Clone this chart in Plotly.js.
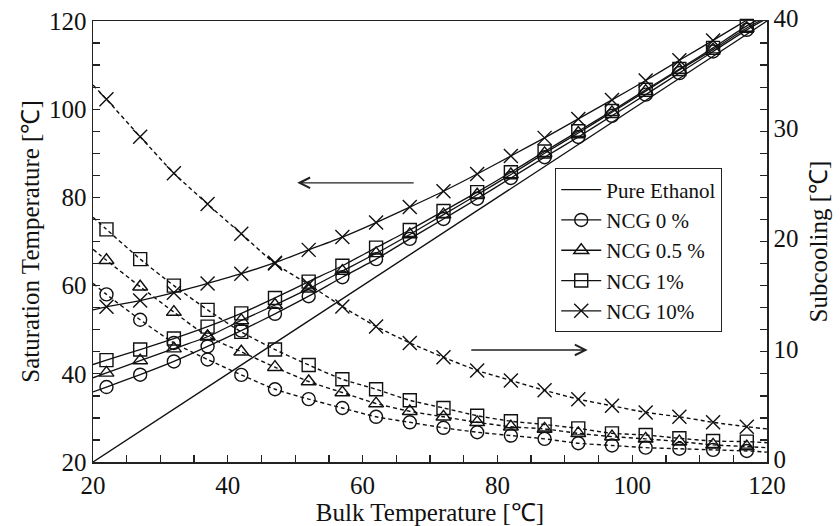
<!DOCTYPE html>
<html>
<head>
<meta charset="utf-8">
<script src="https://cdn.plot.ly/plotly-3.0.1.min.js"></script>
<style>html,body{margin:0;padding:0;background:#fff;}#chart{width:840px;height:526px;}</style>
</head>
<body>
<div id="chart"></div>
<script>
// ---- data ----
const bulkT = [22,27,32,37,42,47,52,57,62,67,72,77,82,87,92,97,102,107,112,117];

// Saturation temperature [°C] (left axis)
const tsatNCG0  = [37.0,39.8,42.8,46.2,49.8,53.6,57.6,61.9,66.0,70.6,75.1,79.7,84.4,89.1,93.7,98.5,103.3,108.2,113.1,118.0];
const tsatNCG05 = [40.2,43.0,45.7,48.4,52.1,55.6,59.3,63.3,67.3,71.6,76.1,80.6,85.2,90.0,94.6,99.3,104.1,108.9,113.5,118.4];
const tsatNCG1  = [43.1,45.5,48.0,50.7,53.7,57.2,60.9,64.5,68.6,72.6,76.9,81.2,85.7,90.4,95.0,99.6,104.4,109.1,113.9,118.9];
const tsatNCG10 = [55.2,56.6,58.4,60.5,62.7,65.2,68.1,71.0,74.3,77.8,81.4,85.3,89.4,93.5,97.8,102.1,106.5,111.1,115.6,120.2];

// Subcooling [°C] (right axis)
const subNCG0  = [15.2,12.9,10.8,9.3,7.9,6.6,5.7,4.9,4.1,3.6,3.1,2.7,2.4,2.1,1.7,1.5,1.3,1.2,1.1,1.0];
const subNCG05 = [18.3,15.9,13.6,11.4,10.0,8.6,7.3,6.3,5.3,4.6,4.1,3.6,3.2,3.0,2.6,2.3,2.1,1.85,1.55,1.4];
const subNCG1  = [21.1,18.4,16.0,13.8,11.8,10.2,8.8,7.5,6.6,5.6,4.9,4.2,3.7,3.4,3.05,2.6,2.45,2.15,1.9,1.85];
const subNCG10 = [32.9,29.5,26.2,23.4,20.7,18.0,16.1,14.1,12.3,10.8,9.5,8.3,7.4,6.5,5.7,5.1,4.5,4.1,3.6,3.2];

// fitted-curve end values at bulk 20 and 120 °C
const curveEndsX = [20, 120];
const tsatEnds0  = [35.9, 120.6];
const tsatEnds05 = [39.1, 120.9];
const tsatEnds1  = [42.1, 121.3];
const tsatEnds10 = [54.5, 122.8];
const subEnds0   = [16.2, 0.9];
const subEnds05  = [19.3, 1.3];
const subEnds1   = [22.2, 1.75];
const subEnds10  = [34.2, 3.0];

// pure ethanol: saturation = bulk
const pureX = [20, 120];
const pureT = [20, 120];

const seriesNames = ['NCG 0 %','NCG 0.5 %','NCG 1%','NCG 10%'];
const symbols = ['circle-open','triangle-up-open','square-open','x-thin-open'];
const msizes = [13, 13, 13, 14];

// ---- build traces ----
const INK = '#111';
const FONT = 'Liberation Serif, Times New Roman, serif';
const tsatAll = [tsatNCG0, tsatNCG05, tsatNCG1, tsatNCG10];
const subAll = [subNCG0, subNCG05, subNCG1, subNCG10];
const tsatEndsAll = [tsatEnds0, tsatEnds05, tsatEnds1, tsatEnds10];
const subEndsAll = [subEnds0, subEnds05, subEnds1, subEnds10];

const traces = [];
traces.push({x: pureX, y: pureT, mode: 'lines', line: {color: INK, width: 1.4},
  name: 'Pure Ethanol', showlegend: true, hoverinfo: 'skip'});

for (let i = 0; i < 4; i++) {
  const cx = [curveEndsX[0]].concat(bulkT, [curveEndsX[1]]);
  const cy = [tsatEndsAll[i][0]].concat(tsatAll[i], [tsatEndsAll[i][1]]);
  const sy = [subEndsAll[i][0]].concat(subAll[i], [subEndsAll[i][1]]);
  traces.push({x: cx, y: cy, mode: 'lines', line: {color: INK, width: 1.3, shape: 'spline', smoothing: 0.6},
    showlegend: false, hoverinfo: 'skip'});
  traces.push({x: cx, y: sy, yaxis: 'y2', mode: 'lines',
    line: {color: INK, width: 1.4, dash: '4px,3px', shape: 'spline', smoothing: 0.6},
    showlegend: false, hoverinfo: 'skip'});
  const mk = {symbol: symbols[i], size: msizes[i], color: INK, line: {color: INK, width: 1.4}};
  traces.push({x: bulkT, y: tsatAll[i], mode: 'markers', marker: mk, cliponaxis: false, showlegend: false});
  traces.push({x: bulkT, y: subAll[i], yaxis: 'y2', mode: 'markers', marker: mk, cliponaxis: false, showlegend: false});
  // legend entry (no data of its own)
  traces.push({x: [null], y: [null], mode: 'lines+markers', name: seriesNames[i],
    line: {color: INK, width: 1.3}, marker: mk, showlegend: true});
}

const axisCommon = {
  showgrid: false, zeroline: false, showline: true, linecolor: '#222', linewidth: 1.5,
  ticks: 'inside', ticklen: 7, tickwidth: 1.3, tickcolor: '#222',
  tickfont: {family: FONT, size: 25, color: '#111'}
};

const layout = {
  width: 840, height: 526,
  margin: {l: 93, r: 73, t: 21, b: 64},
  paper_bgcolor: '#fff', plot_bgcolor: '#fff',
  font: {family: FONT, color: '#111'},
  xaxis: Object.assign({}, axisCommon, {
    range: [20, 120], tick0: 20, dtick: 20, mirror: true,
    minor: {dtick: 5, tick0: 20, ticks: 'inside', ticklen: 7, tickwidth: 1.3, tickcolor: '#222'},
    title: {text: 'Bulk Temperature [℃]', font: {family: FONT, size: 25}, standoff: 2}
  }),
  yaxis: Object.assign({}, axisCommon, {
    range: [20, 120], tick0: 20, dtick: 20,
    minor: {dtick: 5, tick0: 20, ticks: 'inside', ticklen: 7, tickwidth: 1.3, tickcolor: '#222'},
    title: {text: 'Saturation Temperature [℃]', font: {family: FONT, size: 25}, standoff: 2}
  }),
  yaxis2: Object.assign({}, axisCommon, {
    range: [0, 40], tick0: 0, dtick: 10, overlaying: 'y', side: 'right',
    ticklabelshift: -3,
    minor: {dtick: 2, tick0: 0, ticks: 'inside', ticklen: 7, tickwidth: 1.3, tickcolor: '#222'},
    title: {text: 'Subcooling [℃]', font: {family: FONT, size: 25}, standoff: 12}
  }),
  legend: {
    x: 0.6855, y: 0.666, xanchor: 'left', yanchor: 'top',
    bgcolor: '#fff', bordercolor: '#222', borderwidth: 1.2,
    font: {family: FONT, size: 21, color: '#111'},
    tracegroupgap: 0, itemwidth: 40
  },
  annotations: [
    {xref: 'x', yref: 'y', x: 50.3, y: 83.3, axref: 'x', ayref: 'y', ax: 67.8, ay: 83.3,
     showarrow: true, arrowhead: 5, arrowsize: 1.6, arrowwidth: 1.3, arrowcolor: '#222', text: ''},
    {xref: 'x', yref: 'y', x: 93.4, y: 45.4, axref: 'x', ayref: 'y', ax: 75.9, ay: 45.4,
     showarrow: true, arrowhead: 5, arrowsize: 1.6, arrowwidth: 1.3, arrowcolor: '#222', text: ''}
  ],
  showlegend: true
};

Plotly.newPlot('chart', traces, layout, {staticPlot: true, displayModeBar: false});
</script>
</body>
</html>
